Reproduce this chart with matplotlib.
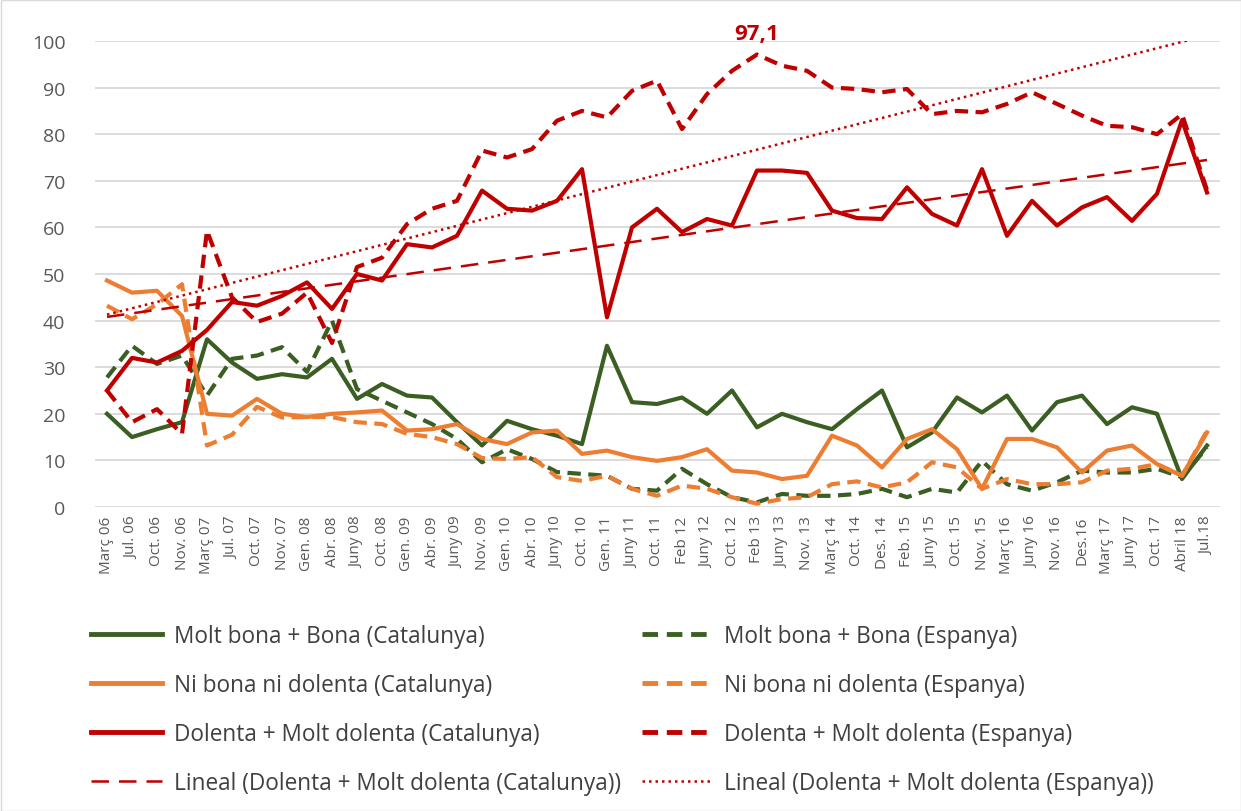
import numpy as np
import matplotlib
matplotlib.use("Agg")
import matplotlib.pyplot as plt
from matplotlib.lines import Line2D
from matplotlib.patches import Rectangle

plt.rcParams['font.family'] = ['Open Sans', 'DejaVu Sans']

labels = ["Març 06", "Jul. 06", "Oct. 06", "Nov. 06", "Març 07", "Jul. 07", "Oct. 07", "Nov. 07",
          "Gen. 08", "Abr. 08", "Juny 08", "Oct. 08", "Gen. 09", "Abr. 09", "Juny 09", "Nov. 09",
          "Gen. 10", "Abr. 10", "Juny 10", "Oct. 10", "Gen. 11", "Juny 11", "Oct. 11", "Feb 12",
          "Juny 12", "Oct. 12", "Feb 13", "Juny 13", "Nov. 13", "Març 14", "Oct. 14", "Des. 14",
          "Feb. 15", "Juny 15", "Oct. 15", "Nov. 15", "Març 16", "Juny 16", "Nov. 16", "Des.16",
          "Març 17", "Juny 17", "Oct. 17", "Abril 18", "Jul.18"]

bona_cat = [20, 15, 16.7, 18.2, 36, 31, 27.5, 28.5, 27.8, 31.8, 23.2, 26.4, 23.9, 23.5, 18.2,
            13.2, 18.5, 16.7, 15.3, 13.5, 34.6, 22.5, 22.1, 23.5, 20, 25, 17.1, 20, 18.2, 16.7,
            21, 25, 12.8, 16, 23.5, 20.3, 23.9, 16.4, 22.5, 23.9, 17.8, 21.4, 20, 6, 13.2]
bona_esp = [27.8, 34.6, 30.7, 32.5, 23.9, 31.8, 32.5, 34.3, 29, 40, 25.3, 22.8, 20.3, 17.8, 14.6,
            9.6, 12.4, 10.3, 7.5, 7.1, 6.7, 3.9, 3.5, 8.2, 4.9, 2.1, 1.0, 2.8, 2.4, 2.4,
            2.8, 3.9, 2.1, 3.9, 3.1, 9.9, 4.9, 3.5, 5.3, 7.8, 7.4, 7.4, 8.2, 6.4, 12.8]
ni_cat = [48.6, 46, 46.4, 41, 20, 19.6, 23.2, 20, 19.3, 20, 20.3, 20.7, 16.4, 16.7, 17.8,
          14.6, 13.5, 16, 16.4, 11.4, 12.1, 10.7, 9.9, 10.7, 12.4, 7.8, 7.4, 6, 6.7, 15.3,
          13.2, 8.5, 14.6, 16.7, 12.4, 3.9, 14.6, 14.6, 12.8, 7.4, 12.1, 13.2, 9.2, 6.7, 16]
ni_esp = [43.2, 40.3, 43.5, 47.8, 13.2, 15.5, 21.5, 19.2, 19.3, 19.3, 18.2, 17.8, 15.7, 15, 13.5,
          10.5, 10.3, 10.7, 6.4, 5.6, 6.7, 3.9, 2.4, 4.6, 3.9, 2.1, 0.7, 1.7, 2.1, 4.9,
          5.5, 4.2, 5.3, 9.6, 8.5, 3.9, 6, 4.9, 4.9, 5.3, 7.8, 8.2, 9.2, 6.7, 16.4]
dol_cat = [25, 32, 31, 33.5, 38, 44, 43.2, 45.3, 48.2, 42.5, 50, 48.6, 56.4, 55.7, 58.2,
           67.9, 64, 63.6, 65.7, 72.5, 40.7, 60, 64, 59, 61.8, 60.4, 72.2, 72.2, 71.7, 63.6,
           62, 61.8, 68.6, 62.9, 60.4, 72.5, 58.2, 65.7, 60.4, 64.3, 66.5, 61.4, 67.2, 83, 67.5]
dol_esp = [25, 18.2, 21, 15.7, 59.3, 45, 39.7, 41.5, 46, 35.2, 51.5, 53.5, 60.7, 64, 65.7,
           76.5, 75, 76.8, 82.9, 85, 83.6, 89.3, 91.5, 81.1, 88.6, 93.6, 97.1, 94.7, 93.6, 90,
           89.7, 89, 89.7, 84.3, 85, 84.7, 86.5, 89, 86.5, 84, 81.8, 81.5, 80, 84.3, 68]

GREEN = "#3B5E23"
ORANGE = "#ED7D31"
RED = "#C00000"

W, H = 1241, 812
fig = plt.figure(figsize=(W / 100, H / 100), dpi=100)
ax = fig.add_axes([94.5 / W, 1 - 508 / H, (1219.5 - 94.5) / W, (508 - 42) / H])

x = np.arange(len(labels))
lw = 3.0
DASH = (0, (3.2, 1.8))
ax.plot(x, bona_cat, color=GREEN, lw=lw)
ax.plot(x, bona_esp, color=GREEN, lw=lw, ls=DASH)
ax.plot(x, ni_cat, color=ORANGE, lw=lw)
ax.plot(x, ni_esp, color=ORANGE, lw=lw, ls=DASH)
ax.plot(x, dol_cat, color=RED, lw=lw)
ax.plot(x, dol_esp, color=RED, lw=lw, ls=DASH)

xt = x + 1
p_cat = np.polyfit(xt, dol_cat, 1)
p_esp = np.polyfit(xt, dol_esp, 1)
ax.plot(x, np.polyval(p_cat, xt), color=RED, lw=1.8, ls=(0, (7, 4)))
ax.plot(x, np.polyval(p_esp, xt), color=RED, lw=1.8, ls=(0, (1, 1.6)))

imax = int(np.argmax(dol_esp))
ax.annotate("97,1", (x[imax], dol_esp[imax]), xytext=(0, 11), textcoords='offset points',
            ha='center', va='baseline', color=RED, fontsize=16, fontweight='bold',
            annotation_clip=False)

ax.set_xlim(-0.5, len(labels) - 0.5)
ax.set_ylim(0, 100)
ax.set_yticks(np.arange(0, 101, 10))
ax.set_xticks(x)
ax.set_xticklabels(labels, rotation=90, fontsize=11, color="#595959")
ax.tick_params(axis='y', labelsize=14, labelcolor="#595959", length=0, pad=21)
ax.tick_params(axis='x', length=0, pad=6)
ax.grid(axis='y', color="#D9D9D9", lw=1.3)
ax.set_axisbelow(True)
for s in ax.spines.values():
    s.set_visible(False)

handles = [
    Line2D([], [], color=GREEN, lw=3.5),
    Line2D([], [], color=ORANGE, lw=3.5),
    Line2D([], [], color=RED, lw=3.5),
    Line2D([], [], color=RED, lw=1.8, ls=(0, (7, 4))),
    Line2D([], [], color=GREEN, lw=3.5, ls=DASH),
    Line2D([], [], color=ORANGE, lw=3.5, ls=DASH),
    Line2D([], [], color=RED, lw=3.5, ls=DASH),
    Line2D([], [], color=RED, lw=1.8, ls=(0, (1, 1.6))),
]
names = [
    "Molt bona + Bona (Catalunya)",
    "Ni bona ni dolenta (Catalunya)",
    "Dolenta + Molt dolenta (Catalunya)",
    "Lineal (Dolenta + Molt dolenta (Catalunya))",
    "Molt bona + Bona (Espanya)",
    "Ni bona ni dolenta (Espanya)",
    "Dolenta + Molt dolenta (Espanya)",
    "Lineal (Dolenta + Molt dolenta (Espanya))",
]
fig.legend(handles, names, ncol=2, loc='upper left', bbox_to_anchor=(71 / W, 1 - 605 / H),
           frameon=False, fontsize=16.3, handlelength=3.1, handletextpad=0.53,
           columnspacing=0.93, labelspacing=1.1, labelcolor="#404040")

fig.patches.append(Rectangle((0.5 / W, 0.5 / H), 1 - 1 / W, 1 - 1 / H, transform=fig.transFigure,
                             fill=False, edgecolor="#D9D9D9", lw=1))

fig.savefig("out.png", dpi=100)
